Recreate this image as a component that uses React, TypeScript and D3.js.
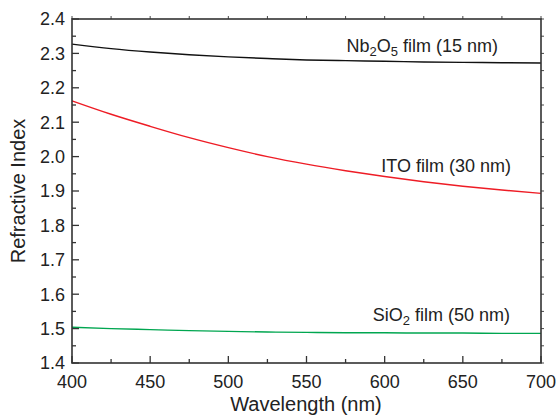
import { useRef, useEffect } from "react";
import * as d3 from "d3";

const wavelengths = [400, 425, 450, 475, 500, 525, 550, 575, 600, 625, 650, 675, 700];
const nb2o5 = [2.327, 2.314, 2.304, 2.296, 2.29, 2.285, 2.281, 2.279, 2.277, 2.275, 2.274, 2.273, 2.272];
const ito = [2.162, 2.123, 2.088, 2.055, 2.026, 2.0, 1.978, 1.959, 1.942, 1.927, 1.914, 1.903, 1.893];
const sio2 = [1.504, 1.5, 1.497, 1.494, 1.492, 1.49, 1.489, 1.488, 1.488, 1.487, 1.487, 1.486, 1.486];
const xTicks = [400, 450, 500, 550, 600, 650, 700];
const yTicks = [1.4, 1.5, 1.6, 1.7, 1.8, 1.9, 2.0, 2.1, 2.2, 2.3, 2.4];

export default function App() {
  const ref = useRef<SVGSVGElement>(null);

  useEffect(() => {
    const w = 559;
    const h = 418;
    const m = { left: 72, right: 541, top: 19, bottom: 363 };
    const font = "'Liberation Sans', Arial, Helvetica, sans-serif";
    const axisColor = "#333";

    const svg = d3.select(ref.current);
    svg.selectAll("*").remove();
    svg.attr("width", w).attr("height", h);

    const x = d3.scaleLinear().domain([400, 700]).range([m.left, m.right]);
    const y = d3.scaleLinear().domain([1.4, 2.4]).range([m.bottom, m.top]);

    // curves
    const series = [
      { values: nb2o5, color: "#111" },
      { values: ito, color: "#ee1c25" },
      { values: sio2, color: "#00a650" },
    ];
    const line = d3
      .line<number>()
      .x((d, i) => x(wavelengths[i]))
      .y((d) => y(d))
      .curve(d3.curveMonotoneX);
    series.forEach((s) => {
      svg
        .append("path")
        .attr("d", line(s.values))
        .attr("fill", "none")
        .attr("stroke", s.color)
        .attr("stroke-width", 1.4);
    });

    // frame
    svg
      .append("rect")
      .attr("x", m.left)
      .attr("y", m.top)
      .attr("width", m.right - m.left)
      .attr("height", m.bottom - m.top)
      .attr("fill", "none")
      .attr("stroke", axisColor)
      .attr("stroke-width", 1.6);

    // ticks: inward on left/bottom, small outward ones on top/right
    const g = svg.append("g").attr("stroke", axisColor).attr("stroke-width", 1.3);
    const xMinor = d3.range(425, 700, 50);
    const yMinor = d3.range(1.45, 2.4, 0.1);
    xTicks.concat(xMinor).forEach((t) => {
      const len = xTicks.includes(t) ? 7 : 4;
      g.append("line").attr("x1", x(t)).attr("x2", x(t)).attr("y1", m.bottom).attr("y2", m.bottom - len);
      g.append("line").attr("x1", x(t)).attr("x2", x(t)).attr("y1", m.top).attr("y2", m.top - 3).attr("stroke-width", 0.9);
    });
    yTicks.forEach((t) => {
      g.append("line").attr("x1", m.left).attr("x2", m.left + 7).attr("y1", y(t)).attr("y2", y(t));
      g.append("line").attr("x1", m.right).attr("x2", m.right + 3).attr("y1", y(t)).attr("y2", y(t)).attr("stroke-width", 0.9);
    });
    yMinor.forEach((t) => {
      g.append("line").attr("x1", m.left).attr("x2", m.left + 4).attr("y1", y(t)).attr("y2", y(t));
      g.append("line").attr("x1", m.right).attr("x2", m.right + 3).attr("y1", y(t)).attr("y2", y(t)).attr("stroke-width", 0.9);
    });

    // tick labels
    svg
      .selectAll(".xt")
      .data(xTicks)
      .enter()
      .append("text")
      .text((d) => d)
      .attr("x", (d) => x(d))
      .attr("y", 388)
      .attr("text-anchor", "middle")
      .attr("font-family", font)
      .attr("font-size", 18)
      .attr("fill", "#222");
    svg
      .selectAll(".yt")
      .data(yTicks)
      .enter()
      .append("text")
      .text((d) => d.toFixed(1))
      .attr("x", 65)
      .attr("y", (d) => y(d))
      .attr("dy", "0.35em")
      .attr("text-anchor", "end")
      .attr("font-family", font)
      .attr("font-size", 18)
      .attr("fill", "#222");

    // axis titles
    svg
      .append("text")
      .text("Wavelength (nm)")
      .attr("x", 306)
      .attr("y", 411)
      .attr("text-anchor", "middle")
      .attr("font-family", font)
      .attr("font-size", 20)
      .attr("fill", "#222");
    svg
      .append("text")
      .text("Refractive Index")
      .attr("transform", "translate(25,191) rotate(-90)")
      .attr("text-anchor", "middle")
      .attr("font-family", font)
      .attr("font-size", 20)
      .attr("fill", "#222");

    // curve labels with subscripts
    const label = (parts: [string, boolean][], xr: number, yb: number) => {
      const t = svg
        .append("text")
        .attr("x", xr)
        .attr("y", yb)
        .attr("text-anchor", "end")
        .attr("font-family", font)
        .attr("font-size", 18)
        .attr("fill", "#222");
      parts.forEach(([s, sub]) => {
        t.append("tspan")
          .text(s)
          .attr("font-size", sub ? 13 : 18)
          .attr("baseline-shift", sub ? "-28%" : null);
      });
    };
    label([["Nb", false], ["2", true], ["O", false], ["5", true], [" film (15 nm)", false]], 498, 52);
    label([["ITO film (30 nm)", false]], 511, 172);
    label([["SiO", false], ["2", true], [" film (50 nm)", false]], 510, 321);
  }, []);

  return (
    <svg
      ref={ref}
      style={{ position: "absolute", left: 0, top: 0, background: "#fff" }}
    ></svg>
  );
}
